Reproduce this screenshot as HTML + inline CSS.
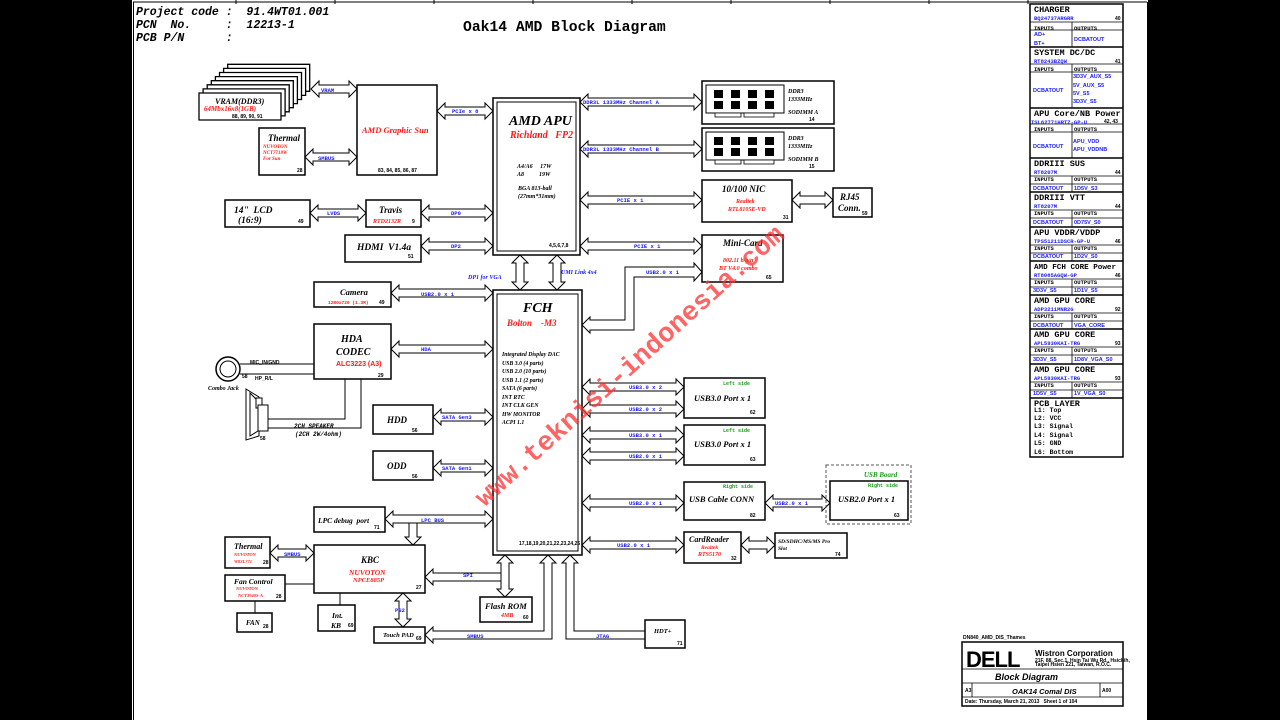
<!DOCTYPE html>
<html><head><meta charset="utf-8"><style>
html,body{margin:0;padding:0;background:#000;width:1280px;height:720px;overflow:hidden}
svg{position:absolute;left:0;top:0}
text{white-space:pre}
.s{font-family:"Liberation Serif",serif;font-weight:bold;font-style:italic}
.m{font-family:"Liberation Mono",monospace;font-weight:bold}
.b{fill:#1a1aff}
.r{fill:#ff1a1a}
.g{fill:#1a9a1a}
.n{font-family:"Liberation Sans",sans-serif;font-weight:bold;font-size:5px}
rect.x{fill:#fff;stroke:#000;stroke-width:1.5}
</style></head><body>
<svg id="sv" width="1280" height="720" xmlns="http://www.w3.org/2000/svg">
<rect x="132" y="0" width="1016" height="720" fill="#fff"/>
<line x1="133" y1="2" x2="1147" y2="2" stroke="#000"/>
<line x1="133.5" y1="2" x2="133.5" y2="720" stroke="#000"/>
<line x1="1147.5" y1="2" x2="1147.5" y2="720" stroke="#000"/>
<g stroke="#000"><line x1="236" y1="0" x2="236" y2="4"/><line x1="335" y1="0" x2="335" y2="4"/><line x1="434" y1="0" x2="434" y2="4"/><line x1="533" y1="0" x2="533" y2="4"/><line x1="632" y1="0" x2="632" y2="4"/><line x1="731" y1="0" x2="731" y2="4"/><line x1="830" y1="0" x2="830" y2="4"/><line x1="929" y1="0" x2="929" y2="4"/><line x1="1028" y1="0" x2="1028" y2="4"/></g>
<g class="m" font-style="italic" font-size="11.5"><text x="136" y="15" xml:space="preserve">Project code :  91.4WT01.001</text><text x="136" y="28" xml:space="preserve">PCN  No.     :  12213-1</text><text x="136" y="41" xml:space="preserve">PCB P/N      :</text></g>
<text x="463" y="31" class="m" font-size="14.7">Oak14 AMD Block Diagram</text>

<g id="arrows" fill="#fff" stroke="#000" stroke-width="1"></g>

<g id="vram"></g>
<text x="215" y="104" class="s" font-size="8">VRAM(DDR3)</text>
<text x="204" y="111" class="s r" font-size="7">64Mbx16x8(1GB)</text>
<text x="232" y="118" class="n">88, 89, 90, 91</text>

<rect class="x" x="357" y="85" width="80" height="90"/>
<text x="362" y="133" class="s r" font-size="8.5">AMD Graphic Sun</text>
<text x="378" y="172" class="n">83, 84, 85, 86, 87</text>

<rect class="x" x="259" y="128" width="46" height="47"/>
<text x="268" y="141" class="s" font-size="9">Thermal</text>
<text x="263" y="148" class="s r" font-size="5">NUVOTON</text>
<text x="263" y="154" class="s r" font-size="5">NCT7718W</text>
<text x="263" y="160" class="s r" font-size="5">For Sun</text>
<text x="297" y="172" class="n">28</text>

<rect class="x" x="493" y="98" width="87" height="157"/>
<rect x="497" y="102" width="79" height="149" fill="none" stroke="#000"/>
<text x="509" y="125" class="s" font-size="14">AMD APU</text>
<text x="510" y="138" class="s r" font-size="10" xml:space="preserve">Richland   FP2</text>
<text x="517" y="168" class="s" font-size="6" xml:space="preserve">A4/A6     17W</text>
<text x="517" y="176" class="s" font-size="6" xml:space="preserve">A8          19W</text>
<text x="518" y="190" class="s" font-size="6">BGA 813-ball</text>
<text x="518" y="198" class="s" font-size="6">(27mm*31mm)</text>
<text x="549" y="247" class="n">4,5,6,7,8</text>

<rect class="x" x="225" y="200" width="85" height="27"/>
<text x="234" y="213" class="s" font-size="9.5" xml:space="preserve">14"  LCD</text>
<text x="238" y="223" class="s" font-size="9.5">(16:9)</text>
<text x="298" y="223" class="n">49</text>
<rect class="x" x="366" y="200" width="55" height="27"/>
<text x="379" y="213" class="s" font-size="9">Travis</text>
<text x="373" y="223" class="s r" font-size="6">RTD2132R</text>
<text x="412" y="223" class="n">9</text>
<rect class="x" x="345" y="235" width="76" height="27"/>
<text x="357" y="250" class="s" font-size="9.5" xml:space="preserve">HDMI  V1.4a</text>
<text x="408" y="258" class="n">51</text>

<g id="dimm"></g>
<rect class="x" x="702" y="180" width="90" height="42"/>
<text x="722" y="192" class="s" font-size="9">10/100 NIC</text>
<text x="736" y="203" class="s r" font-size="6">Realtek</text>
<text x="728" y="211" class="s r" font-size="6">RTL8105E-VD</text>
<text x="783" y="219" class="n">31</text>
<rect class="x" x="833" y="188" width="39" height="29"/>
<text x="840" y="200" class="s" font-size="9">RJ45</text>
<text x="838" y="211" class="s" font-size="9">Conn.</text>
<text x="862" y="215" class="n">59</text>
<rect class="x" x="702" y="235" width="81" height="47"/>
<text x="723" y="246" class="s" font-size="9">Mini-Card</text>
<text x="723" y="262" class="s r" font-size="6">802.11 b/g/n</text>
<text x="719" y="270" class="s r" font-size="6">BT V4.0 combo</text>
<text x="766" y="279" class="n">65</text>

<rect class="x" x="493" y="290" width="89" height="265"/>
<rect x="497" y="294" width="81" height="257" fill="none" stroke="#000"/>
<text x="523" y="312" class="s" font-size="14">FCH</text>
<text x="507" y="326" class="s r" font-size="9" xml:space="preserve">Bolton    -M3</text>
<g class="s" font-size="5.8"><text x="502" y="356">Integrated Display DAC</text><text x="502" y="365">USB 3.0 (4 parts)</text><text x="502" y="373">USB 2.0 (10 parts)</text><text x="502" y="382">USB 1.1 (2 parts)</text><text x="502" y="390">SATA (6 parts)</text><text x="502" y="399">INT RTC</text><text x="502" y="407">INT CLK GEN</text><text x="502" y="416">HW MONITOR</text><text x="502" y="424">ACPI 1.1</text></g>
<text x="519" y="545" class="n" font-size="3.5">17,18,19,20,21,22,23,24,25</text>

<rect class="x" x="314" y="282" width="77" height="25"/>
<text x="340" y="295" class="s" font-size="8.5">Camera</text>
<text x="328" y="304" class="m r" font-size="4.5">1280x720 (1.3M)</text>
<text x="379" y="304" class="n">49</text>
<rect class="x" x="314" y="324" width="77" height="55"/>
<text x="341" y="342" class="s" font-size="10">HDA</text>
<text x="336" y="355" class="s" font-size="10">CODEC</text>
<text x="336" y="366" class="r" font-family="Liberation Sans" font-size="7" font-weight="bold">ALC3223 (A3)</text>
<text x="378" y="377" class="n">29</text>
<circle cx="228" cy="369" r="12" fill="#fff" stroke="#000" stroke-width="1.5"/>
<circle cx="228" cy="369" r="8" fill="none" stroke="#000"/>
<g stroke="#000"><line x1="240" y1="364" x2="314" y2="364"/><line x1="240" y1="374" x2="314" y2="374"/>
<polyline points="268,419 345,419 345,379" fill="none"/><polyline points="268,428 361,428 361,379" fill="none"/></g>
<text x="250" y="364" class="n" font-size="5">MIC_IN/GND</text>
<text x="242" y="378" class="n" font-size="4">58</text><text x="255" y="380" class="n" font-size="5">HP_R/L</text>
<text x="208" y="390" class="s" font-size="6">Combo Jack</text>
<polygon points="246,389 259,397 259,436 246,440" fill="#fff" stroke="#000"/>
<polygon points="250,393 258,401 258,431 250,436" fill="none" stroke="#000"/>
<rect x="256" y="398" width="6" height="10" fill="#fff" stroke="#000"/>
<rect x="258" y="405" width="10" height="26" fill="#fff" stroke="#000"/>
<text x="260" y="440" class="n">58</text>
<text x="294" y="428" class="m" font-size="6" font-style="italic">2CH SPEAKER</text>
<text x="295" y="436" class="m" font-size="6" font-style="italic">(2CH 2W/4ohm)</text>

<rect class="x" x="373" y="405" width="60" height="29"/>
<text x="387" y="423" class="s" font-size="9">HDD</text><text x="412" y="432" class="n">56</text>
<rect class="x" x="373" y="451" width="60" height="29"/>
<text x="387" y="469" class="s" font-size="9">ODD</text><text x="412" y="478" class="n">56</text>

<rect class="x" x="314" y="507" width="71" height="25"/>
<text x="318" y="523" class="s" font-size="7.5" xml:space="preserve">LPC debug  port</text><text x="374" y="529" class="n">71</text>
<rect class="x" x="225" y="537" width="45" height="31"/>
<text x="234" y="549" class="s" font-size="8">Thermal</text>
<text x="234" y="556" class="s r" font-size="4.5">NUVOTON</text>
<text x="234" y="563" class="s r" font-size="4.5">W83L771</text>
<text x="263" y="564" class="n">28</text>
<rect class="x" x="314" y="545" width="111" height="48"/>
<text x="361" y="563" class="s" font-size="9">KBC</text>
<text x="349" y="575" class="s r" font-size="7.5">NUVOTON</text>
<text x="353" y="582" class="s r" font-size="6.5">NPCE885P</text>
<text x="416" y="589" class="n">27</text>
<rect class="x" x="225" y="575" width="60" height="26"/>
<text x="234" y="584" class="s" font-size="7.5">Fan Control</text>
<text x="236" y="590" class="s r" font-size="4.5">NUVOTON</text>
<text x="238" y="597" class="s r" font-size="4.5">NCT3940S-A</text>
<text x="276" y="598" class="n">28</text>
<g stroke="#000"><line x1="285" y1="584" x2="314" y2="584"/><line x1="255" y1="601" x2="255" y2="613"/><line x1="340" y1="593" x2="340" y2="605"/></g>
<rect class="x" x="237" y="613" width="35" height="19"/>
<text x="246" y="625" class="s" font-style="normal" font-size="7">FAN</text><text x="263" y="628" class="n">28</text>
<rect class="x" x="318" y="605" width="37" height="26"/>
<text x="332" y="618" class="s" font-size="7.5">Int.</text><text x="331" y="628" class="s" font-size="7.5">KB</text><text x="348" y="627" class="n">69</text>
<rect class="x" x="374" y="627" width="51" height="16"/>
<text x="383" y="637" class="s" font-size="6.5">Touch PAD</text><text x="416" y="640" class="n">69</text>
<rect class="x" x="480" y="597" width="52" height="25"/>
<text x="485" y="609" class="s" font-size="8.5">Flash ROM</text>
<text x="501" y="617" class="s r" font-size="6">4MB</text><text x="523" y="619" class="n">60</text>
<rect class="x" x="645" y="620" width="40" height="28"/>
<text x="654" y="633" class="s" font-size="6.5">HDT+</text><text x="677" y="645" class="n">71</text>

<rect class="x" x="684" y="378" width="81" height="40"/>
<text x="723" y="385" class="m g" font-size="5">Left side</text>
<text x="694" y="401" class="s" font-size="8.5">USB3.0 Port x 1</text><text x="750" y="414" class="n">62</text>
<rect class="x" x="684" y="425" width="81" height="40"/>
<text x="723" y="432" class="m g" font-size="5">Left side</text>
<text x="694" y="447" class="s" font-size="8.5">USB3.0 Port x 1</text><text x="750" y="461" class="n">63</text>
<rect class="x" x="684" y="482" width="81" height="38"/>
<text x="723" y="488" class="m g" font-size="5">Right side</text>
<text x="689" y="502" class="s" font-size="8.5">USB Cable CONN</text><text x="750" y="517" class="n">82</text>
<rect x="826" y="465" width="85" height="59" fill="none" stroke="#555" stroke-dasharray="3,2"/>
<text x="864" y="477" class="s g" font-size="7">USB Board</text>
<rect class="x" x="830" y="481" width="78" height="39"/>
<text x="868" y="487" class="m g" font-size="5">Right side</text>
<text x="838" y="502" class="s" font-size="8.5">USB2.0 Port x 1</text><text x="894" y="517" class="n">63</text>
<rect class="x" x="684" y="532" width="57" height="31"/>
<text x="689" y="542" class="s" font-size="8">CardReader</text>
<text x="701" y="549" class="s r" font-size="5.5">Realtek</text>
<text x="698" y="556" class="s r" font-size="6">RTS5170</text><text x="731" y="560" class="n">32</text>
<rect class="x" x="775" y="533" width="72" height="25"/>
<text x="778" y="543" class="s" font-size="5.5">SD/SDHC/MS/MS Pro</text>
<text x="778" y="550" class="s" font-size="5.5">Slot</text><text x="835" y="556" class="n">74</text>

<g class="m b" font-size="5.5">
<text x="321" y="92">VRAM</text><text x="318" y="160">SMBUS</text><text x="452" y="113">PCIe x 8</text>
<text x="583" y="104">DDR3L 1333MHz Channel A</text><text x="583" y="151">DDR3L 1333MHz Channel B</text>
<text x="617" y="202">PCIE x 1</text><text x="634" y="248">PCIE x 1</text><text x="646" y="274">USB2.0 x 1</text>
<text x="327" y="215">LVDS</text><text x="451" y="215">DP0</text><text x="451" y="248">DP2</text>
<text x="421" y="296">USB2.0 x 1</text><text x="421" y="351">HDA</text>
<text x="442" y="419">SATA Gen3</text><text x="442" y="470">SATA Gen1</text>
<text x="421" y="522">LPC BUS</text><text x="284" y="556">SMBUS</text><text x="463" y="577">SPI</text>
<text x="395" y="612">PS2</text><text x="467" y="638">SMBUS</text><text x="596" y="638">JTAG</text>
<text x="629" y="389">USB3.0 x 2</text><text x="629" y="411">USB2.0 x 2</text>
<text x="629" y="437">USB3.0 x 1</text><text x="629" y="458">USB2.0 x 1</text>
<text x="629" y="505">USB2.0 x 1</text><text x="775" y="505">USB2.0 x 1</text>
<text x="617" y="547">USB2.0 x 1</text>
</g>
<g class="s b" font-size="6"><text x="468" y="279">DP1 for VGA</text><text x="561" y="274">UMI Link 4x4</text></g>

<rect x="1030" y="4" width="93" height="453" fill="#fff" stroke="#000" stroke-width="1.5"/>
<g id="tbl"></g>
<g class="m" font-size="8.5">
<text x="1034" y="12">CHARGER</text><text x="1034" y="55">SYSTEM DC/DC</text><text x="1034" y="116">APU Core/NB Power</text><text x="1034" y="166">DDRIII SUS</text><text x="1034" y="200">DDRIII VTT</text><text x="1034" y="235">APU VDDR/VDDP</text><text x="1034" y="269" font-size="7.6">AMD FCH CORE Power</text><text x="1034" y="303">AMD GPU CORE</text><text x="1034" y="337">AMD GPU CORE</text><text x="1034" y="372">AMD GPU CORE</text><text x="1034" y="406">PCB LAYER</text>
</g>
<g class="m b" font-size="5.5">
<text x="1034" y="20">BQ24737ARGRR</text><text x="1034" y="63">RT8243BZQW</text><text x="1031" y="124">ISL62771HRTZ-GP-U</text><text x="1034" y="174">RT8207M</text><text x="1034" y="208">RT8207M</text><text x="1034" y="243">TPS51211DSCR-GP-U</text><text x="1034" y="277">RT8085AGQW-GP</text><text x="1034" y="311">ADP3211MNR2G</text><text x="1034" y="345">APL5930KAI-TRG</text><text x="1034" y="380">APL5930KAI-TRG</text>
</g>
<g class="n" font-size="4.5"><text x="1115" y="20">40</text><text x="1115" y="63">41</text><text x="1104" y="123">42, 43</text><text x="1115" y="174">44</text><text x="1115" y="208">44</text><text x="1115" y="243">46</text><text x="1115" y="277">46</text><text x="1115" y="311">92</text><text x="1115" y="345">93</text><text x="1115" y="380">93</text></g>
<g font-family="Liberation Sans" font-weight="bold" font-size="5.5" fill="#1a1aff">
<text x="1034" y="36">AD+</text><text x="1034" y="45">BT+</text><text x="1074" y="41">DCBATOUT</text>
<text x="1033" y="92">DCBATOUT</text><text x="1073" y="78">3D3V_AUX_S5</text><text x="1073" y="87">5V_AUX_S5</text><text x="1073" y="95">5V_S5</text><text x="1073" y="103">3D3V_S5</text>
<text x="1033" y="148">DCBATOUT</text><text x="1073" y="143">APU_VDD</text><text x="1073" y="151">APU_VDDNB</text>
<text x="1033" y="190">DCBATOUT</text><text x="1074" y="190">1D5V_S3</text>
<text x="1033" y="224">DCBATOUT</text><text x="1074" y="224">0D75V_S0</text>
<text x="1033" y="258">DCBATOUT</text><text x="1074" y="258">1D2V_S0</text>
<text x="1033" y="292">3D3V_S5</text><text x="1074" y="292">1D1V_S5</text>
<text x="1033" y="327">DCBATOUT</text><text x="1074" y="327">VGA_CORE</text>
<text x="1033" y="361">3D3V_S5</text><text x="1074" y="361">1D8V_VGA_S0</text>
<text x="1033" y="395">1D5V_S5</text><text x="1074" y="395">1V_VGA_S0</text>
</g>
<g class="m" font-size="5.5"><text x="1034" y="30">INPUTS</text><text x="1074" y="30">OUTPUTS</text><text x="1034" y="71">INPUTS</text><text x="1074" y="71">OUTPUTS</text><text x="1034" y="131">INPUTS</text><text x="1074" y="131">OUTPUTS</text><text x="1034" y="181">INPUTS</text><text x="1074" y="181">OUTPUTS</text><text x="1034" y="215">INPUTS</text><text x="1074" y="215">OUTPUTS</text><text x="1034" y="250">INPUTS</text><text x="1074" y="250">OUTPUTS</text><text x="1034" y="284">INPUTS</text><text x="1074" y="284">OUTPUTS</text><text x="1034" y="318">INPUTS</text><text x="1074" y="318">OUTPUTS</text><text x="1034" y="352">INPUTS</text><text x="1074" y="352">OUTPUTS</text><text x="1034" y="387">INPUTS</text><text x="1074" y="387">OUTPUTS</text></g>
<g class="m" font-size="6.5"><text x="1034" y="412">L1: Top</text><text x="1034" y="420">L2: VCC</text><text x="1034" y="428">L3: Signal</text><text x="1034" y="437">L4: Signal</text><text x="1034" y="445">L5: GND</text><text x="1034" y="454">L6: Bottom</text></g>

<text x="963" y="639" class="n" font-size="3.5">DN840_AMD_DIS_Thames</text>
<rect x="962" y="642" width="161" height="64" fill="#fff" stroke="#000" stroke-width="1.5"/>
<g stroke="#000" stroke-width="0.8"><line x1="962" y1="669" x2="1123" y2="669"/><line x1="962" y1="683" x2="1123" y2="683"/><line x1="962" y1="697" x2="1123" y2="697"/><line x1="972" y1="683" x2="972" y2="697"/><line x1="1100" y1="683" x2="1100" y2="697"/></g>
<text x="966" y="667" font-family="Liberation Sans" font-weight="bold" font-size="22" letter-spacing="-1">DELL</text>
<text x="1035" y="656" font-family="Liberation Sans" font-weight="bold" font-size="8">Wistron Corporation</text>
<text x="1035" y="662" class="n" font-size="3">21F, 88, Sec.1, Hsin Tai Wu Rd., Hsichih,</text>
<text x="1035" y="666" class="n" font-size="3">Taipei Hsien 221, Taiwan, R.O.C.</text>
<text x="995" y="680" font-family="Liberation Sans" font-weight="bold" font-style="italic" font-size="9">Block Diagram</text>
<text x="1012" y="694" font-family="Liberation Sans" font-weight="bold" font-style="italic" font-size="7.5">OAK14 Comal DIS</text>
<text x="965" y="692" class="n" font-size="4">A3</text><text x="1102" y="692" class="n" font-size="4">A00</text>
<text x="965" y="703" class="n" font-size="3">Date: Thursday, March 21, 2013   Sheet 1 of 104</text>

<text x="0" y="0" transform="translate(635,372) rotate(-42)" text-anchor="middle" fill="#ff3030" fill-opacity="0.75" font-family="Liberation Mono" font-weight="bold" font-size="27">www.teknisi-indonesia.com</text>
</svg>
<script>
var NS="http://www.w3.org/2000/svg";
function P(g,pts,fill){var p=document.createElementNS(NS,"polygon");p.setAttribute("points",pts.map(function(a){return a.join(",")}).join(" "));if(fill)p.setAttribute("fill",fill);document.getElementById(g).appendChild(p);}
function H(x1,x2,y,l,r){var a=[];if(l){a.push([x1,y],[x1+8,y-8],[x1+8,y-4]);}else a.push([x1,y-4]);
 if(r){a.push([x2-8,y-4],[x2-8,y-8],[x2,y],[x2-8,y+8],[x2-8,y+4]);}else a.push([x2,y-4],[x2,y+4]);
 if(l){a.push([x1+8,y+4],[x1+8,y+8]);}else a.push([x1,y+4]);P("arrows",a);}
function V(x,y1,y2,t,b){var a=[];if(t){a.push([x,y1],[x+8,y1+8],[x+4,y1+8]);}else a.push([x+4,y1]);
 if(b){a.push([x+4,y2-8],[x+8,y2-8],[x,y2],[x-8,y2-8],[x-4,y2-8]);}else a.push([x+4,y2],[x-4,y2]);
 if(t){a.push([x-4,y1+8],[x-8,y1+8]);}else a.push([x-4,y1]);P("arrows",a);}
H(311,357,89,1,1);H(305,357,157,1,1);H(437,493,111,1,1);
H(310,366,213,1,1);H(421,493,213,1,1);H(421,493,246,1,1);
H(580,702,102,1,1);H(580,702,149,1,1);H(580,702,200,1,1);H(792,833,200,1,1);H(580,702,246,1,1);
V(520,255,290,1,1);V(557,255,290,1,1);
P("arrows",[[582,325],[590,317],[590,320],[625,320],[625,267],[694,267],[694,263],[702,272],[694,281],[694,277],[634,277],[634,330],[590,330],[590,333]]);
H(391,493,293,1,1);H(391,493,349,1,1);H(433,493,417,1,1);H(433,493,468,1,1);
V(413,519,545,0,1);H(385,493,519,1,1);
H(270,314,553,1,1);
V(505,555,597,1,1);H(425,501,577,1,0);
V(403,593,627,1,1);
P("arrows",[[425,635],[433,627],[433,631],[544,631],[544,563],[540,563],[548,555],[556,563],[552,563],[552,639],[433,639],[433,643]]);
P("arrows",[[570,555],[578,563],[574,563],[574,631],[645,631],[645,639],[566,639],[566,563],[562,563]]);
H(582,684,387,1,1);H(582,684,409,1,1);H(582,684,435,1,1);H(582,684,456,1,1);H(582,684,503,1,1);H(765,830,503,1,1);
H(582,684,545,1,1);H(741,775,545,1,1);
for(var i=7;i>=0;i--){var x=199+i*4.1,y=93-i*4.1;P("vram",[[x,y],[x+82,y],[x+82,y+27],[x,y+27]],"#fff");}
document.querySelectorAll("#vram polygon").forEach(function(p){p.setAttribute("stroke","#000");p.setAttribute("stroke-width","1.3");});
var dg=document.getElementById("dimm");
[81,128].forEach(function(y0){
 function R(x,y,w,h,f,sw){var r=document.createElementNS(NS,"rect");r.setAttribute("x",x);r.setAttribute("y",y);r.setAttribute("width",w);r.setAttribute("height",h);r.setAttribute("fill",f);r.setAttribute("stroke","#000");r.setAttribute("stroke-width",sw);dg.appendChild(r);}
 R(702,y0,132,43,"#fff",1.5);R(706,y0+4,78,28,"#fff",1);
 for(var c=0;c<4;c++)for(var rr=0;rr<2;rr++)R(714+c*17,y0+9+rr*11,9,8,"#000",0);
 R(715,y0+32,26,4,"#fff",0.8);R(744,y0+32,30,4,"#fff",0.8);
});
var tg=document.getElementById("tbl");
function L(x1,y1,x2,y2,w){var l=document.createElementNS(NS,"line");l.setAttribute("x1",x1);l.setAttribute("y1",y1);l.setAttribute("x2",x2);l.setAttribute("y2",y2);l.setAttribute("stroke","#000");l.setAttribute("stroke-width",w);tg.appendChild(l);}
var s=[4,47,108,158,192,227,261,295,329,364,398],e=[47,108,158,192,227,261,295,329,364,398];
for(var i=0;i<10;i++){var y0=s[i],y1=e[i],ri=(i==1?y0+17:(i==2?y0+16:y0+18));L(1030,y1,1123,y1,1.5);L(1030,ri,1123,ri,0.8);L(1030,ri+8,1123,ri+8,0.8);L(1072,ri,1072,y1,0.8);}
</script>
<svg width="1280" height="720" style="pointer-events:none" xmlns="http://www.w3.org/2000/svg">
<g class="s" font-size="6"><text x="788" y="93">DDR3</text><text x="788" y="101">1333MHz</text><text x="788" y="114">SODIMM A</text><text x="788" y="140">DDR3</text><text x="788" y="148">1333MHz</text><text x="788" y="161">SODIMM B</text></g>
<g class="n" font-size="4.5"><text x="809" y="121">14</text><text x="809" y="168">15</text></g>
</svg>
</body></html>
